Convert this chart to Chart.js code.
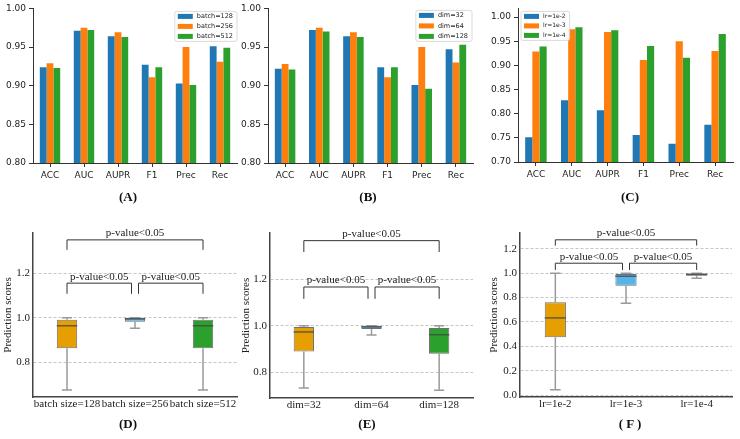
<!DOCTYPE html>
<html>
<head>
<meta charset="utf-8">
<script src="https://cdn.jsdelivr.net/npm/chart.js@4.4.0/dist/chart.umd.min.js"></script>
<style>
  body { margin: 0; width: 740px; height: 439px; background: #fff; position: relative; overflow: hidden; }
  canvas { position: absolute; }
  .cap { position: absolute; font: bold 13px 'Liberation Serif', serif; color: #111; transform: translate(-50%, -50%); white-space: pre; }
</style>
</head>
<body>
<canvas id="cA" width="245" height="190" style="left:0;top:0"></canvas>
<canvas id="cB" width="245" height="190" style="left:238px;top:0"></canvas>
<canvas id="cC" width="252" height="190" style="left:488px;top:0"></canvas>
<canvas id="cD" width="245" height="195" style="left:0;top:222px"></canvas>
<canvas id="cE" width="245" height="195" style="left:238px;top:222px"></canvas>
<canvas id="cF" width="254" height="195" style="left:486px;top:222px"></canvas>
<div class="cap" style="left:128px;top:197px">(A)</div>
<div class="cap" style="left:368px;top:197px">(B)</div>
<div class="cap" style="left:630px;top:197px">(C)</div>
<div class="cap" style="left:128px;top:424px">(D)</div>
<div class="cap" style="left:367px;top:424px">(E)</div>
<div class="cap" style="left:630px;top:424px">( F )</div>
<script>
// ---- data ----
const metrics = ['ACC', 'AUC', 'AUPR', 'F1', 'Prec', 'Rec'];

const batchNames = ['batch=128', 'batch=256', 'batch=512'];
const batch128 = [0.924, 0.971, 0.964, 0.927, 0.903, 0.951];
const batch256 = [0.929, 0.975, 0.969, 0.911, 0.950, 0.931];
const batch512 = [0.923, 0.972, 0.963, 0.924, 0.901, 0.949];

const dimNames = ['dim=32', 'dim=64', 'dim=128'];
const dim32 = [0.922, 0.972, 0.964, 0.924, 0.901, 0.947];
const dim64 = [0.928, 0.975, 0.969, 0.911, 0.950, 0.930];
const dim128 = [0.921, 0.970, 0.963, 0.924, 0.896, 0.953];

const lrNames = ['lr=1e-2', 'lr=1e-3', 'lr=1e-4'];
const lr1e2 = [0.751, 0.828, 0.807, 0.756, 0.738, 0.777];
const lr1e3 = [0.929, 0.975, 0.969, 0.911, 0.950, 0.930];
const lr1e4 = [0.939, 0.979, 0.973, 0.940, 0.916, 0.965];

const ticksAB = [0.80, 0.85, 0.90, 0.95, 1.00];
const ticksC = [0.70, 0.75, 0.80, 0.85, 0.90, 0.95, 1.00];

// box plots: min, q1, median, q3, max per group
const batchBoxNames = ['batch size=128', 'batch size=256', 'batch size=512'];
const batchMin = [0.675, 0.953, 0.675];
const batchQ1 = [0.863, 0.982, 0.863];
const batchMed = [0.964, 0.995, 0.964];
const batchQ3 = [0.991, 1.000, 0.991];
const batchMax = [1.000, 1.000, 1.000];

const dimMin = [0.731, 0.960, 0.721];
const dimQ1 = [0.889, 0.986, 0.879];
const dimMed = [0.973, 0.995, 0.961];
const dimQ3 = [0.994, 1.000, 0.990];
const dimMax = [1.000, 1.000, 1.000];

const lrMin = [0.044, 0.753, 0.959];
const lrQ1 = [0.474, 0.898, 0.980];
const lrMed = [0.633, 0.975, 0.990];
const lrQ3 = [0.762, 0.994, 0.997];
const lrMax = [1.000, 1.000, 1.000];

const ticksDE = [0.8, 1.0, 1.2];
const ticksF = [0.0, 0.2, 0.4, 0.6, 0.8, 1.0, 1.2];

const pText = 'p-value<0.05';

// ---- styles ----
const barColors = ['#1f77b4', '#ff7f0e', '#2ca02c'];
const boxColors = ['#E69F00', '#56B4E9', '#2CA02C'];
const sans = 'DejaVu Sans';
const serif = 'Liberation Serif';

Chart.defaults.font.family = sans;
Chart.defaults.animation = false;

// legend drawn inside the plot area
const innerLegend = {
  id: 'innerLegend',
  afterDraw(chart, args, o) {
    const ctx = chart.ctx, a = chart.chartArea;
    const labels = chart.data.datasets.map(d => d.label);
    ctx.save();
    ctx.font = o.size + 'px "' + sans + '"';
    const tw = Math.max(...labels.map(l => ctx.measureText(l).width));
    const w = 3 + 15 + 4 + tw + 4;
    const h = 10 + (labels.length - 1) * o.row;
    const x0 = o.side === 'left' ? a.left + o.dx : a.right - o.dx - w;
    const y0 = a.top + o.dy;
    ctx.fillStyle = 'rgba(255,255,255,0.85)';
    ctx.strokeStyle = '#d0d0d0';
    ctx.lineWidth = 0.8;
    ctx.beginPath();
    ctx.roundRect(x0, y0, w, h, 2);
    ctx.fill();
    ctx.stroke();
    ctx.textBaseline = 'middle';
    labels.forEach((l, i) => {
      const cy = y0 + 5 + i * o.row;
      ctx.fillStyle = chart.data.datasets[i].backgroundColor;
      ctx.fillRect(x0 + 3, cy - 2.5, 15, 5);
      ctx.fillStyle = '#222';
      ctx.fillText(l, x0 + 22, cy);
    });
    ctx.restore();
  }
};

function barChart(id, names, series, ticks, yMin, yMax, pad, yW, xH, legend) {
  new Chart(document.getElementById(id), {
    type: 'bar',
    data: {
      labels: metrics,
      datasets: series.map((s, i) => ({
        label: names[i], data: s, backgroundColor: barColors[i],
        categoryPercentage: 0.6, barPercentage: 1.0
      }))
    },
    options: {
      responsive: false,
      devicePixelRatio: 1,
      layout: { padding: pad },
      plugins: { legend: { display: false }, tooltip: { enabled: false }, innerLegend: legend },
      scales: {
        x: {
          grid: { display: true, drawOnChartArea: false, offset: false, tickLength: 4, color: '#333' },
          border: { display: true, color: '#333', width: 1 },
          ticks: { color: '#222', font: { size: 9 }, padding: 3, maxRotation: 0, minRotation: 0, autoSkip: false },
          afterFit: s => { s.height = xH; }
        },
        y: {
          min: yMin, max: yMax,
          afterBuildTicks: s => { s.ticks = ticks.map(v => ({ value: v })); },
          grid: { display: true, drawOnChartArea: false, tickLength: 4, color: '#333' },
          border: { display: true, color: '#333', width: 1 },
          ticks: { color: '#222', font: { size: 9 }, padding: 3, callback: v => v.toFixed(2) },
          afterFit: s => { s.width = yW; }
        }
      }
    },
    plugins: [innerLegend]
  });
}

// whiskers, medians and significance brackets for the box plots
const boxPlot = {
  id: 'boxPlot',
  beforeDatasetsDraw(chart, args, o) {
    const ctx = chart.ctx, y = chart.scales.y;
    const meta = chart.getDatasetMeta(0);
    ctx.save();
    ctx.strokeStyle = '#9a9a9a';
    ctx.lineWidth = 1.5;
    meta.data.forEach((bar, i) => {
      const cx = bar.x, hw = bar.width / 4;
      const yMin = y.getPixelForValue(o.min[i]), yMax = y.getPixelForValue(o.max[i]);
      ctx.beginPath();
      ctx.moveTo(cx, yMin); ctx.lineTo(cx, y.getPixelForValue(o.q1[i]));
      ctx.moveTo(cx, y.getPixelForValue(o.q3[i])); ctx.lineTo(cx, yMax);
      ctx.moveTo(cx - hw, yMin); ctx.lineTo(cx + hw, yMin);
      ctx.moveTo(cx - hw, yMax); ctx.lineTo(cx + hw, yMax);
      ctx.stroke();
    });
    ctx.restore();
  },
  afterDatasetsDraw(chart, args, o) {
    const ctx = chart.ctx, x = chart.scales.x, y = chart.scales.y;
    const meta = chart.getDatasetMeta(0);
    ctx.save();
    ctx.strokeStyle = 'rgba(70,70,70,0.8)';
    ctx.lineWidth = 1.5;
    meta.data.forEach((bar, i) => {
      const ym = y.getPixelForValue(o.med[i]);
      ctx.beginPath();
      ctx.moveTo(bar.x - bar.width / 2, ym); ctx.lineTo(bar.x + bar.width / 2, ym);
      ctx.stroke();
    });
    ctx.strokeStyle = '#333';
    ctx.lineWidth = 1;
    ctx.fillStyle = '#222';
    ctx.font = '11px "' + serif + '"';
    ctx.textAlign = 'center';
    ctx.textBaseline = 'bottom';
    o.brackets.forEach(b => {
      const x1 = x.getPixelForValue(b.from) + (b.inL || 0);
      const x2 = x.getPixelForValue(b.to) - (b.inR || 0);
      const yt = y.getPixelForValue(b.top), yf = y.getPixelForValue(b.foot);
      ctx.beginPath();
      ctx.moveTo(x1, yf); ctx.lineTo(x1, yt); ctx.lineTo(x2, yt); ctx.lineTo(x2, yf);
      ctx.stroke();
      ctx.fillText(pText, (x1 + x2) / 2, yt - 1);
    });
    ctx.restore();
  }
};

function boxChart(id, names, mn, q1, med, q3, mx, ticks, yMin, yMax, pad, yW, xH, brackets) {
  new Chart(document.getElementById(id), {
    type: 'bar',
    data: {
      labels: names,
      datasets: [{
        data: q1.map((v, i) => [v, q3[i]]),
        backgroundColor: boxColors,
        borderColor: '#707070',
        borderWidth: 1,
        borderSkipped: false,
        categoryPercentage: 1.0,
        barPercentage: 0.3
      }]
    },
    options: {
      responsive: false,
      devicePixelRatio: 1,
      layout: { padding: pad },
      plugins: {
        legend: { display: false }, tooltip: { enabled: false },
        boxPlot: { min: mn, q1: q1, med: med, q3: q3, max: mx, brackets: brackets }
      },
      scales: {
        x: {
          grid: { display: false, drawTicks: false },
          border: { display: true, color: '#444', width: 1.5 },
          ticks: { color: '#222', font: { family: serif, size: 11 }, padding: 1, maxRotation: 0, minRotation: 0, autoSkip: false },
          afterFit: s => { s.height = xH; }
        },
        y: {
          min: yMin, max: yMax,
          afterBuildTicks: s => { s.ticks = ticks.map(v => ({ value: v })); },
          grid: { color: '#b8b8b8', lineWidth: 0.8, drawTicks: false },
          border: { display: true, color: '#444', width: 1.5, dash: [3, 2] },
          ticks: { color: '#222', font: { family: serif, size: 11 }, padding: 3, callback: v => v.toFixed(1) },
          title: { display: true, text: 'Prediction scores', color: '#222', font: { family: serif, size: 11 }, padding: { top: 2, bottom: 0 } },
          afterFit: s => { s.width = yW; }
        }
      }
    },
    plugins: [boxPlot]
  });
}

barChart('cA', batchNames, [batch128, batch256, batch512], ticksAB, 0.80, 1.00,
  { left: 0, top: 6, right: 8, bottom: 0 }, 33, 27, { side: 'right', dx: 0, dy: 3, row: 10, size: 6.5 });
barChart('cB', dimNames, [dim32, dim64, dim128], ticksAB, 0.80, 1.00,
  { left: 0, top: 8, right: 10, bottom: 0 }, 30, 27, { side: 'right', dx: 1, dy: 2, row: 10.5, size: 6.5 });
barChart('cC', lrNames, [lr1e2, lr1e3, lr1e4], ticksC, 0.70, 1.018,
  { left: 0, top: 6, right: 7, bottom: 0 }, 30, 28, { side: 'left', dx: 3, dy: 3, row: 9.5, size: 6 });

boxChart('cD', batchBoxNames, batchMin, batchQ1, batchMed, batchQ3, batchMax, ticksDE, 0.643, 1.382,
  { left: 0, top: 11, right: 8, bottom: 0 }, 33, 20, [
    { from: 0, to: 2, top: 1.351, foot: 1.306 },
    { from: 0, to: 1, top: 1.156, foot: 1.108, inR: 3.5 },
    { from: 1, to: 2, top: 1.156, foot: 1.108, inL: 3.5 }
  ]);
boxChart('cE', dimNames, dimMin, dimQ1, dimMed, dimQ3, dimMax, ticksDE, 0.688, 1.40,
  { left: 0, top: 11, right: 10, bottom: 0 }, 32, 19, [
    { from: 0, to: 2, top: 1.367, foot: 1.318 },
    { from: 0, to: 1, top: 1.167, foot: 1.116, inR: 3.5 },
    { from: 1, to: 2, top: 1.167, foot: 1.116, inL: 3.5 }
  ]);
boxChart('cF', lrNames, lrMin, lrQ1, lrMed, lrQ3, lrMax, ticksF, -0.016, 1.33,
  { left: 0, top: 11, right: 8, bottom: 0 }, 34, 20, [
    { from: 0, to: 2, top: 1.274, foot: 1.227 },
    { from: 0, to: 1, top: 1.082, foot: 1.027, inR: 3.5 },
    { from: 1, to: 2, top: 1.082, foot: 1.027, inL: 3.5 }
  ]);
</script>
</body>
</html>
